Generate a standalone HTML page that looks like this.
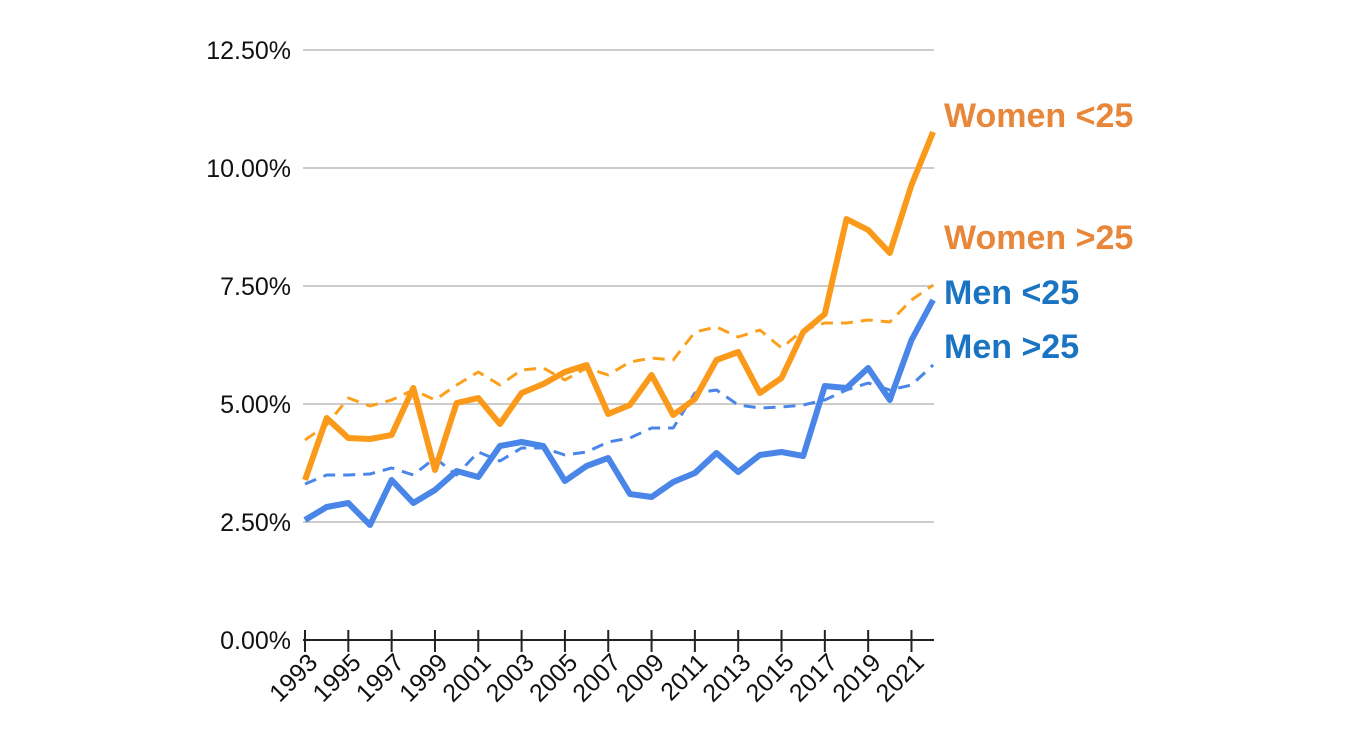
<!DOCTYPE html>
<html><head><meta charset="utf-8"><style>
body{margin:0;background:#fff;}
svg text{font-family:"Liberation Sans",Arial,sans-serif;}
</style></head><body>
<svg width="1349" height="750" viewBox="0 0 1349 750" xmlns="http://www.w3.org/2000/svg">
<g stroke="#cccccc" stroke-width="2">
<line x1="303" y1="50" x2="934" y2="50"/>
<line x1="303" y1="168" x2="934" y2="168"/>
<line x1="303" y1="286" x2="934" y2="286"/>
<line x1="303" y1="404" x2="934" y2="404"/>
<line x1="303" y1="522" x2="934" y2="522"/>
</g>
<g font-size="25" fill="#111" text-anchor="end">
<text x="291" y="59">12.50%</text>
<text x="291" y="177">10.00%</text>
<text x="291" y="295">7.50%</text>
<text x="291" y="413">5.00%</text>
<text x="291" y="531">2.50%</text>
<text x="291" y="649">0.00%</text>
</g>
<line x1="303" y1="640" x2="934" y2="640" stroke="#222" stroke-width="2"/>
<g id="ticks" stroke="#222" stroke-width="2"></g>
<g id="xl" font-size="25" fill="#111" text-anchor="end"></g>
<g fill="none" stroke-linejoin="round" stroke-linecap="butt">
<polyline id="wg" stroke="#fba01d" stroke-width="3" stroke-dasharray="12,8"/>
<polyline id="mg" stroke="#4a86e8" stroke-width="3" stroke-dasharray="12,8"/>
<polyline id="ml" stroke="#4a86e8" stroke-width="6"/>
<polyline id="wl" stroke="#fb9a1a" stroke-width="6"/>
</g>
<g font-size="34" font-weight="bold">
<text x="944" y="127" fill="#e8873a">Women &lt;25</text>
<text x="944" y="249" fill="#e8873a">Women &gt;25</text>
<text x="944" y="304" fill="#1a74c2">Men &lt;25</text>
<text x="944" y="358" fill="#1a74c2">Men &gt;25</text>
</g>
</svg>
<script>
const X=i=>305+i*21.66;
const d={
wl:[480,418,438,439,435,388,470,403,398,424,393,384,372,365,414,405,375,415,399,360,352,393,378,332,314,219,230,253,185,132],
wg:[440,425,398,406,400,390,400,385,372,385,370,368,380,368,375,362,358,360,332,327,337,330,348,330,323,323,320,322,300,285],
ml:[520,507,503,525,480,503,490,471,477,446,442,446,481,466,458,494,497,482,473,453,472,455,452,456,386,388,368,400,340,300],
mg:[484,475,475,474,468,475,458,475,452,461,448,448,455,452,442,438,428,428,393,390,405,408,407,405,400,390,383,390,385,365]};
for(const k in d)document.getElementById(k).setAttribute('points',d[k].map((y,i)=>X(i).toFixed(1)+','+y).join(' '));
const ns='http://www.w3.org/2000/svg';
const t=document.getElementById('ticks'),xl=document.getElementById('xl');
for(let i=0;i<30;i+=2){const l=document.createElementNS(ns,'line');l.setAttribute('x1',X(i));l.setAttribute('x2',X(i));l.setAttribute('y1',630);l.setAttribute('y2',652);t.appendChild(l);}
for(let i=0;i<30;i+=2){const tx=document.createElementNS(ns,'text');const x=X(i)+14,y=664;tx.setAttribute('x',x);tx.setAttribute('y',y);tx.setAttribute('transform',`rotate(-45 ${x} ${y})`);tx.textContent=1993+i;xl.appendChild(tx);}
</script>
</body></html>
